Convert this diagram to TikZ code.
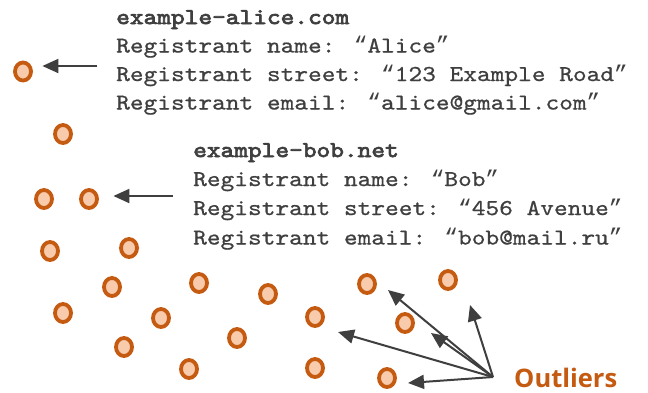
\documentclass[tikz,border=0pt]{standalone}
\usepackage{fontspec}
\usetikzlibrary{arrows.meta,shapes.geometric}
\newfontfamily\codefont{lmmono10-regular.otf}[FakeStretch=1.15,FakeBold=0.7]
\newfontfamily\codeboldfont{lmmono10-regular.otf}[FakeStretch=1.15,FakeBold=3.2]
\newfontfamily\quotefont{Liberation Mono}
\newfontfamily\outfont{Open Sans}
\newcommand{\myoq}{{\quotefont “}}
\newcommand{\mycq}{{\quotefont ”}}
\definecolor{dot}{HTML}{C55A11}
\definecolor{dotfill}{HTML}{F8CBAD}
\definecolor{ink}{HTML}{3F3F3F}
\begin{document}
\begin{tikzpicture}[x=1pt,y=-1pt,
  dotnode/.style={ellipse,draw=dot,fill=dotfill,line width=3.8pt,minimum width=16pt,minimum height=18pt,inner sep=0pt},
  pointer/.style={draw=ink,line width=2pt,-{Triangle[length=16pt,width=14pt]}},
  codeline/.style={anchor=base west,inner sep=0pt,text=ink,font=\codefont\fontsize{22.7}{28}\selectfont},
  codetitle/.style={anchor=base west,inner sep=0pt,text=ink,font=\codeboldfont\fontsize{22.7}{28}\selectfont},
  outtext/.style={anchor=base west,inner sep=0pt,text=dot,font=\outfont\bfseries\fontsize{25.5}{30}\selectfont}
  ]
\useasboundingbox[fill=white] (0,0) rectangle (648,392);

% dots
\node[dotnode] (c1) at (23,71.5) {};
\node[dotnode] (c2) at (63,134) {};
\node[dotnode] (c3) at (44,199) {};
\node[dotnode] (c4) at (89,199) {};
\node[dotnode] (c5) at (50,251) {};
\node[dotnode] (c6) at (129,248) {};
\node[dotnode] (c7) at (112,287) {};
\node[dotnode] (c8) at (199,283) {};
\node[dotnode] (c9) at (268,294) {};
\node[dotnode] (c10) at (367,284) {};
\node[dotnode] (c11) at (448,280) {};
\node[dotnode] (c12) at (63,313) {};
\node[dotnode] (c13) at (161,318) {};
\node[dotnode] (c14) at (315,317) {};
\node[dotnode] (c15) at (405,323) {};
\node[dotnode] (c16) at (124,347) {};
\node[dotnode] (c17) at (237,338) {};
\node[dotnode] (c18) at (189,369) {};
\node[dotnode] (c19) at (315,368) {};
\node[dotnode] (c20) at (387,378) {};

% alice text
\node[codetitle] (alice0) at (116,24) {example-alice.com};
\node[codeline] (alice1) at (116,52.5) {Registrant name: \myoq Alice\mycq};
\node[codeline] (alice2) at (116,81) {Registrant street: \myoq 123 Example Road\mycq};
\node[codeline] (alice3) at (116,109.5) {Registrant email: \myoq alice@gmail.com\mycq};

% bob text
\node[codetitle] (bob0) at (193,157) {example-bob.net};
\node[codeline] (bob1) at (193,186) {Registrant name: \myoq Bob\mycq};
\node[codeline] (bob2) at (193,215) {Registrant street: \myoq 456 Avenue\mycq};
\node[codeline] (bob3) at (193,244.5) {Registrant email: \myoq bob@mail.ru\mycq};

% outliers label
\node[outtext] (outl) at (514,387) {Outliers};

% arrows to records
\coordinate (atail) at (97,66);
\coordinate (btail) at (173,196);
\draw[pointer,shorten >=9.5pt] (atail) -- (atail -| c1.east);
\draw[pointer,shorten >=14.5pt] (btail) -- (btail -| c4.east);

% outlier arrows
\coordinate (o) at (493,377);
\coordinate (t10) at (388,290);
\coordinate (t15) at (431,333);
\coordinate (t11) at (470,305);
\coordinate (t14) at (338,332);
\coordinate (t20) at (408,383);
\draw[pointer] (o) -- (t10);
\draw[pointer] (o) -- (t15);
\draw[pointer] (o) -- (t11);
\draw[pointer] (o) -- (t14);
\draw[pointer] (o) -- (t20);
\end{tikzpicture}
\end{document}
